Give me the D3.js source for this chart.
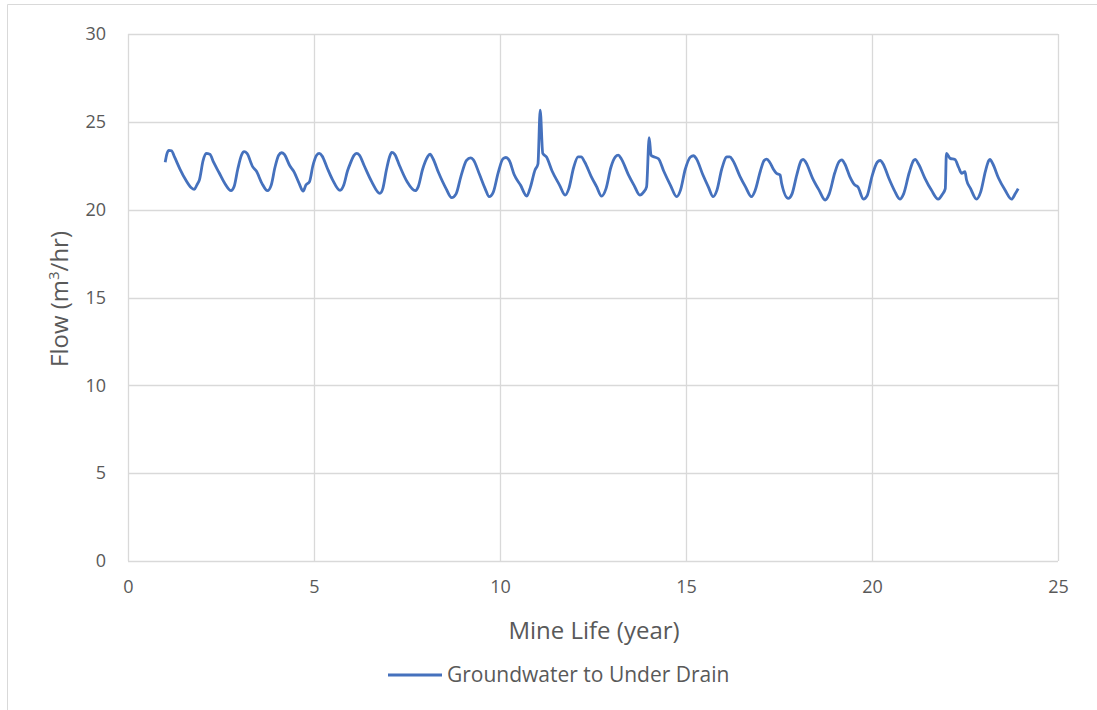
<!DOCTYPE html>
<html><head><meta charset="utf-8">
<script src="https://cdn.jsdelivr.net/npm/d3@7"></script>
<style>body{margin:0;background:#fff}svg{display:block}text{font-family:"Open Sans",sans-serif;fill:#595959}</style>
</head><body>
<svg id="c" width="1097" height="710"></svg>
<script>
const seriesName = "Groundwater to Under Drain";
const xTicks = [0,5,10,15,20,25];
const yTicks = [0,5,10,15,20,25,30];
const years = [1.00,1.05,1.10,1.17,1.25,1.40,1.55,1.70,1.78,1.85,1.92,2.02,2.10,2.20,2.30,2.45,2.60,2.77,2.85,2.95,3.05,3.12,3.20,3.35,3.45,3.60,3.75,3.85,3.95,4.05,4.13,4.20,4.35,4.45,4.60,4.71,4.78,4.88,4.97,5.07,5.14,5.22,5.35,5.50,5.70,5.80,5.90,5.97,6.08,6.15,6.22,6.35,6.55,6.77,6.85,6.95,7.03,7.09,7.17,7.30,7.50,7.72,7.80,7.92,8.05,8.12,8.20,8.35,8.55,8.70,8.82,8.95,9.10,9.21,9.28,9.45,9.60,9.71,9.82,9.95,10.08,10.16,10.25,10.38,10.55,10.72,10.82,10.94,11.02,11.08,11.15,11.25,11.40,11.60,11.75,11.85,11.98,12.10,12.18,12.28,12.45,12.60,12.73,12.85,12.98,13.10,13.18,13.26,13.45,13.60,13.76,13.86,13.94,14.01,14.06,14.15,14.26,14.40,14.58,14.75,14.85,14.98,15.12,15.20,15.28,15.45,15.60,15.73,15.83,15.96,16.10,16.18,16.26,16.45,16.60,16.76,16.86,17.00,17.10,17.17,17.25,17.35,17.43,17.53,17.57,17.75,17.85,17.98,18.10,18.15,18.22,18.40,18.58,18.74,18.85,19.00,19.12,19.19,19.27,19.40,19.54,19.62,19.77,19.87,20.00,20.14,20.22,20.30,20.45,20.60,20.75,20.85,21.00,21.12,21.16,21.25,21.42,21.60,21.78,21.90,21.97,22.00,22.10,22.23,22.33,22.41,22.50,22.54,22.65,22.81,22.92,23.05,23.14,23.17,23.25,23.40,23.58,23.75,23.85,23.93];
const flow = [22.70,23.20,23.38,23.35,23.00,22.30,21.70,21.25,21.15,21.40,21.70,22.80,23.20,23.15,22.70,22.10,21.50,21.08,21.30,22.30,23.10,23.30,23.20,22.45,22.20,21.50,21.08,21.40,22.40,23.10,23.24,23.15,22.50,22.20,21.50,21.05,21.40,21.60,22.50,23.10,23.20,23.05,22.40,21.70,21.10,21.40,22.20,22.60,23.10,23.20,23.10,22.50,21.60,20.93,21.20,22.30,23.00,23.26,23.15,22.50,21.60,21.08,21.30,22.30,23.00,23.16,22.90,22.10,21.20,20.68,20.90,21.90,22.80,22.95,22.85,22.00,21.20,20.74,21.00,22.10,22.90,22.97,22.80,22.00,21.40,20.77,21.30,22.25,22.60,25.67,23.20,23.00,22.20,21.40,20.83,21.20,22.40,23.00,23.00,22.70,21.90,21.30,20.77,21.20,22.40,23.00,23.10,22.90,22.00,21.40,20.83,21.00,21.30,24.10,23.10,23.00,22.90,22.20,21.40,20.74,21.10,22.30,23.00,23.07,22.90,22.00,21.30,20.74,21.10,22.30,23.00,23.00,22.80,21.90,21.30,20.74,21.10,22.20,22.80,22.88,22.70,22.30,22.07,21.97,21.50,20.64,20.90,22.00,22.80,22.86,22.70,21.80,21.10,20.55,20.90,22.10,22.75,22.83,22.60,21.90,21.40,21.30,20.60,20.80,21.90,22.70,22.80,22.60,21.80,21.10,20.60,20.90,22.10,22.80,22.86,22.60,21.80,21.10,20.60,20.90,21.20,23.20,22.92,22.86,22.40,22.07,22.16,21.70,21.20,20.60,21.00,22.20,22.80,22.86,22.60,21.80,21.10,20.60,20.90,21.20];

const svg = d3.select("#c");
const pLeft = 128, pRight = 1058, pTop = 34, pBottom = 561;
const x = d3.scaleLinear().domain([0,25]).range([pLeft,pRight]);
const y = d3.scaleLinear().domain([0,30]).range([pBottom,pTop]);
const grid = "#d9d9d9";
const txt = "#595959";

// outer frame
svg.append("line").attr("x1",7.5).attr("x2",1097).attr("y1",4.5).attr("y2",4.5).attr("stroke",grid);
svg.append("line").attr("x1",7.5).attr("x2",7.5).attr("y1",4.5).attr("y2",710).attr("stroke",grid);

// gridlines
svg.append("g").selectAll("line").data(yTicks).join("line")
  .attr("x1",pLeft).attr("x2",pRight).attr("y1",d=>Math.round(y(d))+0.5).attr("y2",d=>Math.round(y(d))+0.5)
  .attr("stroke",grid).attr("stroke-width",1.3);
svg.append("g").selectAll("line").data(xTicks).join("line")
  .attr("y1",pTop).attr("y2",pBottom).attr("x1",d=>Math.round(x(d))+0.5).attr("x2",d=>Math.round(x(d))+0.5)
  .attr("stroke",grid).attr("stroke-width",1.3);

// axes via d3.axis (labels only)
const ya = svg.append("g").attr("transform",`translate(${pLeft},0)`)
  .call(d3.axisLeft(y).tickValues(yTicks).tickSize(0).tickPadding(22).tickFormat(d3.format("d")));
ya.select(".domain").remove();
ya.selectAll("text").attr("font-size",18).attr("fill",txt).style("font-family","'Open Sans',sans-serif");
const xa = svg.append("g").attr("transform",`translate(0,${pBottom})`)
  .call(d3.axisBottom(x).tickValues(xTicks).tickSize(0).tickPadding(19).tickFormat(d3.format("d")));
xa.select(".domain").remove();
xa.selectAll("text").attr("font-size",18).attr("fill",txt).style("font-family","'Open Sans',sans-serif");

// line
const pts = years.map((t,i)=>[t,flow[i]]);
svg.append("path").datum(pts)
  .attr("d", d3.line().x(d=>x(d[0])).y(d=>y(d[1])).curve(d3.curveMonotoneX))
  .attr("fill","none").attr("stroke","#4571bd").attr("stroke-width",2.8).attr("stroke-linejoin","round");

// axis titles
svg.append("text").attr("x",594).attr("y",639).attr("text-anchor","middle").attr("font-size",24).text("Mine Life (year)");
const yt = svg.append("text").attr("transform","translate(68,299) rotate(-90)").attr("text-anchor","middle").attr("font-size",24);
yt.append("tspan").text("Flow (m");
yt.append("tspan").attr("dy",-9).attr("font-size",15).text("3");
yt.append("tspan").attr("dy",9).text("/hr)");

// legend
svg.append("line").attr("x1",388).attr("x2",442).attr("y1",675).attr("y2",675).attr("stroke","#4571bd").attr("stroke-width",2.8);
svg.append("text").attr("x",447).attr("y",682).attr("font-size",21).text(seriesName);
</script>
</body></html>
